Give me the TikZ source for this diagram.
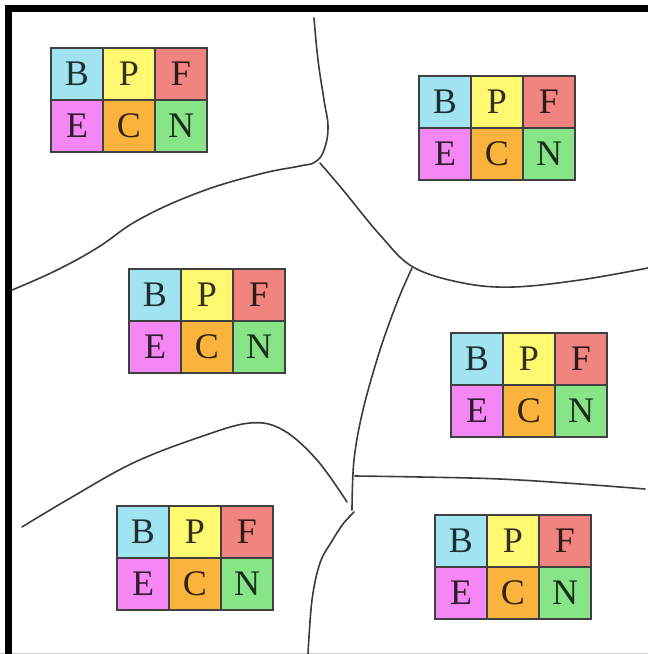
\documentclass[tikz,border=0pt]{standalone}
\usepackage{fontspec}
\setmainfont{Liberation Serif}
\usetikzlibrary{positioning}

\definecolor{cB}{RGB}{160,228,242}
\definecolor{cP}{RGB}{255,248,112}
\definecolor{cF}{RGB}{242,132,128}
\definecolor{cE}{RGB}{245,135,245}
\definecolor{cC}{RGB}{250,180,62}
\definecolor{cN}{RGB}{135,228,135}
\definecolor{lineGray}{RGB}{60,60,60}

% one table of six cells, #1 name, (#2,#3) top left corner
\newcommand{\cellgrid}[3]{%
  \foreach \lbl/\col/\dx/\dy in {B/cB/0/0, P/cP/1/0, F/cF/2/0, E/cE/0/1, C/cC/1/1, N/cN/2/1}
    \node[cell, fill=\col, text=\col!20!black] (#1-\lbl) at ({#2+26+52*\dx}, {#3+26+52*\dy}) {\lbl};
}

\begin{document}
\begin{tikzpicture}[x=1pt, y=-1pt,
    cell/.style={rectangle, draw=black!75, line width=1.3pt, minimum size=52pt, inner sep=0pt, yshift=-1pt, font=\fontsize{36}{36}\selectfont},
    frame/.style={line width=6.5pt, black},
    boundary/.style={draw=lineGray, line width=1.6pt, line cap=round}
]
    \useasboundingbox (0,0) rectangle (648,654);

    % Frame
    \draw[gray!40, line width=1pt] (0,653) -- (648,653);
    \draw[frame] (8.5,654) -- (8.5,8.5) -- (648,8.5);

    % Region boundaries
    \draw[boundary] plot[smooth, tension=0.7] coordinates {(12,290) (55,271) (97,248) (140,219) (200,192) (260,174) (300,166) (315,162) (324,150) (328,127) (324,100) (318,60) (314,18)};
    \draw[boundary] plot[smooth, tension=0.6] coordinates {(320,163) (343,190) (380,235) (413,267) (463,283) (513,287) (580,280) (648,268)};
    \draw[boundary] plot[smooth, tension=0.6] coordinates {(412,268) (398,300) (380,350) (363,410) (354,460) (352,510)};
    \draw[boundary] plot[smooth, tension=0.6] coordinates {(354,512) (343,524) (332,541) (320,563) (312,600) (308,654)};
    \draw[boundary] plot[smooth, tension=0.6] coordinates {(355,476) (420,477) (500,479) (580,484) (645,489)};
    \draw[boundary] plot[smooth, tension=0.6] coordinates {(22,527) (67,500) (133,463) (200,437) (250,423) (283,430) (317,460) (347,502)};

    % Tables
    \cellgrid{nw}{51}{47}
    \cellgrid{ne}{419}{75}
    \cellgrid{w}{129}{268}
    \cellgrid{e}{451}{332}
    \cellgrid{sw}{117}{505}
    \cellgrid{se}{435}{514}
\end{tikzpicture}
\end{document}
